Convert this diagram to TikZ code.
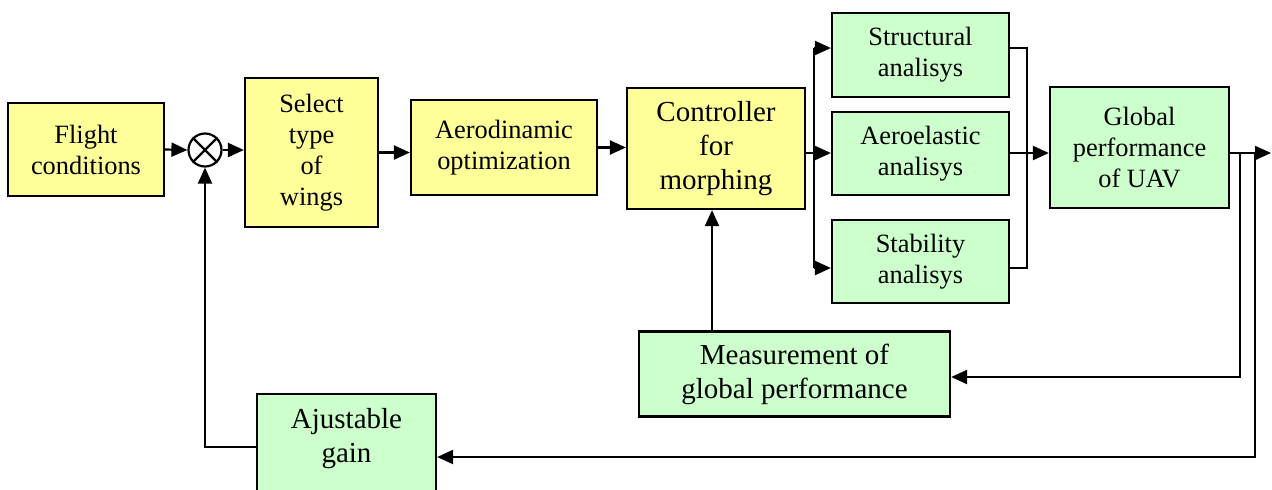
\documentclass[tikz,border=0pt]{standalone}
\usepackage{fontspec}
\setmainfont{Liberation Serif}
\usetikzlibrary{calc,math,arrows.meta}
\definecolor{boxyellow}{HTML}{FFFF99}
\definecolor{boxgreen}{HTML}{CCFFCC}

\begin{document}
\begin{tikzpicture}[x=0.5pt,y=-0.5pt,line width=1.1pt,
    >={Triangle[length=8pt,width=7pt]},
    blk/.style={draw,inner sep=0pt,align=center,font=\fontsize{13.2}{15.5}\selectfont},
    yblk/.style={blk,fill=boxyellow},
    gblk/.style={blk,fill=boxgreen},
    bigtext/.style={font=\fontsize{14.5}{17}\selectfont}]
  \tikzmath{
      \forkx=814; \joinx=1027; \tapa=1240; \tapb=1255;
      \ytop=48; \ymid=153; \ybot=268;
  }
  \useasboundingbox (0,0) rectangle (1272,489);
  \clip (0,0) rectangle (1272,489);

  \node[yblk,minimum width=78pt,minimum height=46.5pt] (flight) at (86,149.5) {Flight\\conditions};
  \node[draw,circle,fill=white,inner sep=0pt,minimum size=16.5pt] (sum) at (205,150) {};
  \draw (sum.north east) -- (sum.south west) (sum.north west) -- (sum.south east);
  \node[yblk,minimum width=66.5pt,minimum height=74.5pt] (select) at (311.5,152.5) {Select\\type\\of\\wings};
  \node[yblk,minimum width=93pt,minimum height=47.5pt] (aero) at (504,147.5) {Aerodinamic\\optimization};
  \node[yblk,bigtext,minimum width=89pt,minimum height=60.5pt] (ctrl) at (716,148.5) {Controller\\for\\morphing};
  \node[gblk,minimum width=88.5pt,minimum height=42pt] (struct) at (920.5,55) {Structural\\analisys};
  \node[gblk,minimum width=88.5pt,minimum height=41.5pt] (aeroel) at (920.5,153.5) {Aeroelastic\\analisys};
  \node[gblk,minimum width=88.5pt,minimum height=41.5pt] (stab) at (920.5,261.5) {Stability\\analisys};
  \node[gblk,minimum width=89.5pt,minimum height=60.5pt] (global) at (1139.5,147.5) {Global\\performance\\of UAV};
  \node[gblk,bigtext,minimum width=155.5pt,minimum height=42.5pt] (meas) at (794.5,374) {Measurement of\\global performance};
  \node[gblk,anchor=north,minimum width=89.5pt,minimum height=60pt] (gain) at (346.5,393) {};
  \node[bigtext,align=center,inner sep=0pt] (gaintext) at (346.5,439) {Ajustable\\gain};

  \coordinate (forkT) at (\forkx,\ytop);
  \coordinate (forkM) at (\forkx,\ymid);
  \coordinate (forkB) at (\forkx,\ybot);
  \coordinate (joinT) at (\joinx,\ytop);
  \coordinate (joinM) at (\joinx,\ymid);
  \coordinate (joinB) at (\joinx,\ybot);
  \coordinate (tapA) at (\tapa,\ymid);
  \coordinate (tapB) at (\tapb,\ymid);
  \coordinate (out) at (1271,\ymid);
  \coordinate (fb) at (712,330);

  \draw[->] (flight.east) -- (sum.west);
  \draw[->] (sum.east) -- (sum.east -| select.west);
  \draw[->] (select.east) -- (select.east -| aero.west);
  \draw[->] (aero.east) -- (aero.east -| ctrl.west);
  \draw (ctrl.east |- forkM) -- (forkM);
  \draw (forkT) -- (forkB);
  \foreach \b/\f in {struct/forkT,aeroel/forkM,stab/forkB} {
    \draw[->] (\f) -- (\f -| \b.west);
  }
  \draw (struct.east |- joinT) -- (joinT) -- (joinB) -- (stab.east |- joinB);
  \draw (aeroel.east |- joinM) -- (joinM);
  \draw[->] (joinM) -- (joinM -| global.west);
  \draw[->] (global.east |- out) -- (out);
  \draw[->] (tapA) |- (meas.east |- 0,377);
  \draw[->] (tapB) |- (gain.east |- 0,457);
  \draw[->] (meas.north -| fb) -- (ctrl.south -| fb);
  \draw[->] (gain.west |- 0,447) -| (sum.south);
\end{tikzpicture}
\end{document}
